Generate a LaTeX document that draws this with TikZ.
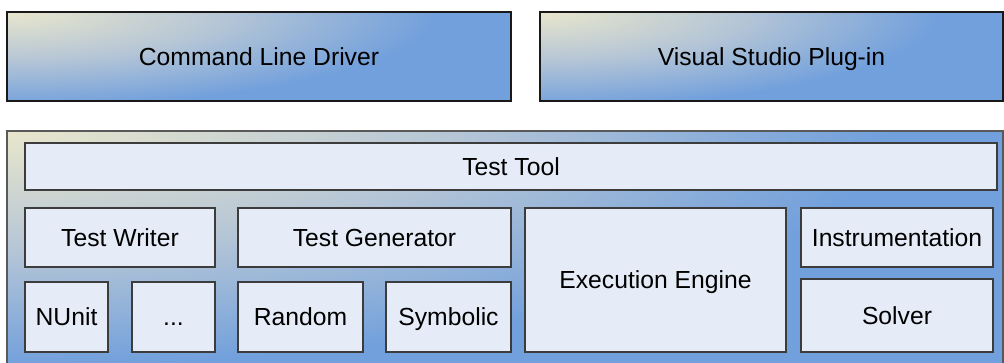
\documentclass[tikz,border=0pt]{standalone}
\usepackage{fontspec}
\setmainfont{Liberation Sans}
\definecolor{sandtone}{RGB}{232,230,204}
\definecolor{greymid}{RGB}{182,198,214}
\definecolor{skyblue}{RGB}{114,160,220}
\definecolor{panelfill}{RGB}{230,236,247}
\definecolor{boxline}{RGB}{60,60,60}
% the path's own outline corresponds to radius 25bp of the shading
\pgfdeclareradialshading{cornerglow}{\pgfpoint{0bp}{0bp}}{%
  color(0bp)=(sandtone); color(12.5bp)=(greymid); color(25bp)=(skyblue); color(50bp)=(skyblue)}
\tikzset{
  label font/.style={font=\fontsize{24.7}{29}\selectfont, text height=17.6pt, text depth=0pt},
  % gradient panel: radial glow from the top-left corner with radii #1 and #2
  panel/.style 2 args={anchor=north west, inner sep=0pt, outer sep=0pt,
    label font,
    path picture={
      \fill[skyblue] (path picture bounding box.south west) rectangle (path picture bounding box.north east);
      \shade[shading=cornerglow] (path picture bounding box.north west) ellipse (#1pt and #2pt);
    }},
  part/.style={anchor=north west, draw=boxline, line width=1.1pt, fill=panelfill,
    inner sep=0pt, outer sep=0pt, label font},
}
\begin{document}
\begin{tikzpicture}[x=1pt, y=-1pt]
  \useasboundingbox (0,0) rectangle (1004,363);

  % front ends
  \node[panel={430}{95}, draw=black!90, line width=1.3pt,
        minimum width=504pt, minimum height=89pt] (cli) at (7,12) {Command Line Driver};
  \node[panel={400}{95}, draw=black!90, line width=1.3pt,
        minimum width=463pt, minimum height=89pt] (vs) at (540,12) {Visual Studio Plug-in};

  % test tool container
  \node[panel={880}{235}, draw=black!65, line width=1.2pt,
        minimum width=996pt, minimum height=240pt] (tool) at (7,131) {};

  \node[part, minimum width=972pt, minimum height=47pt] (tt) at (25,143) {Test Tool};
  \node[part, minimum width=190pt, minimum height=59pt] (writer) at (25,208) {Test Writer};
  \node[part, minimum width=273pt, minimum height=59pt] (gen) at (238,208) {Test Generator};
  \node[part, minimum width=83pt, minimum height=70pt] (nunit) at (25,282) {NUnit};
  \node[part, minimum width=83pt, minimum height=70pt] (more) at (132,282) {...};
  \node[part, minimum width=125pt, minimum height=70pt] (random) at (238,282) {Random};
  \node[part, minimum width=125pt, minimum height=70pt] (symbolic) at (386,282) {Symbolic};
  \node[part, minimum width=261pt, minimum height=144pt] (exec) at (525,208) {Execution Engine};
  \node[part, minimum width=192pt, minimum height=59pt] (instr) at (801,208) {Instrumentation};
  \node[part, minimum width=192pt, minimum height=73pt] (solver) at (801,279) {Solver};
\end{tikzpicture}
\end{document}
